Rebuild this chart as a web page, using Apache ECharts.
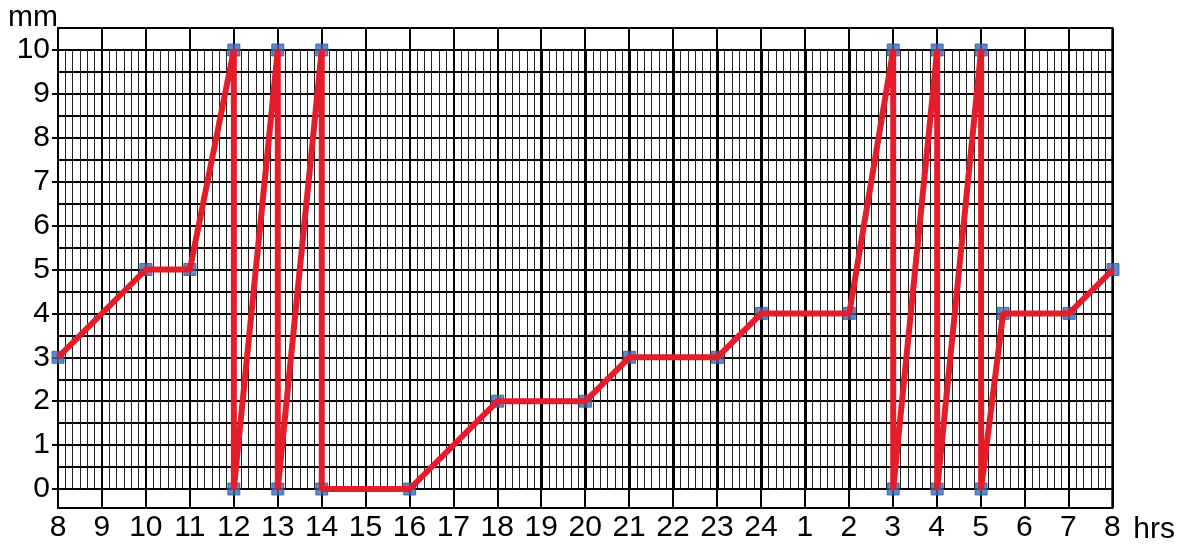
<!DOCTYPE html>
<html>
<head>
<meta charset="utf-8">
<script src="https://cdn.jsdelivr.net/npm/echarts@6/dist/echarts.min.js"></script>
<style>
    html, body { margin: 0; padding: 0; background: #fff; }
    #chart { width: 1178px; height: 545px; }
</style>
</head>
<body>
<div id="chart"></div>
<script>
// hours counted from 8 (so 24 -> midnight, 26 -> 2 next day)
const hours = [8, 10, 11, 12, 12, 13, 13, 14, 14, 16, 18, 20, 21, 23, 24, 26, 27, 27, 28, 28, 29, 29, 29.5, 31, 32];
const mm = [3, 5, 5, 10, 0, 10, 0, 10, 0, 0, 2, 2, 3, 3, 4, 4, 10, 0, 10, 0, 10, 0, 4, 4, 5];
const hourLabels = ['8', '9', '10', '11', '12', '13', '14', '15', '16', '17', '18', '19', '20',
    '21', '22', '23', '24', '1', '2', '3', '4', '5', '6', '7', '8'];
const mmTicks = [0, 1, 2, 3, 4, 5, 6, 7, 8, 9, 10];

const font = 'Liberation Sans';
const chart = echarts.init(document.getElementById('chart'));

const points = hours.map((h, i) => [h, mm[i]]);

const option = {
    backgroundColor: '#fff',
    animation: false,
    grid: [
        // outer frame (with empty bands above 10 and below 0)
        { left: 58, right: 65, top: 28, bottom: 35, show: true, borderColor: '#000', borderWidth: 2, z: 1 },
        // inner plot 0..10
        { left: 58, right: 65, top: 50, bottom: 56 }
    ],
    xAxis: [
        {
            gridIndex: 0, type: 'value', min: 8, max: 32, interval: 1,
            name: 'hrs', nameLocation: 'end', nameGap: 21,
            nameTextStyle: { fontSize: 30, color: '#000', fontFamily: font, verticalAlign: 'top', padding: [7, 0, 0, 0] },
            axisLine: { show: false },
            axisTick: { show: false },
            axisLabel: {
                fontSize: 30, color: '#000', fontFamily: font, margin: 5,
                formatter: v => hourLabels[v - 8]
            },
            splitLine: { show: true, lineStyle: { color: '#000', width: 2 } }
        },
        {
            gridIndex: 1, type: 'value', min: 8, max: 32, interval: 1,
            axisLine: { show: false },
            axisTick: { show: false },
            axisLabel: { show: false },
            splitLine: { show: true, lineStyle: { color: '#000', width: 2 } },
            minorTick: { show: false, splitNumber: 6 },
            minorSplitLine: { show: true, lineStyle: { color: '#222', width: 1 } }
        }
    ],
    yAxis: [
        {
            gridIndex: 0, type: 'value', min: 0, max: 1,
            name: 'mm', nameLocation: 'end', nameGap: 0,
            nameTextStyle: { fontSize: 30, color: '#000', fontFamily: font, align: 'right', verticalAlign: 'bottom', padding: [0, 0, -5, 0] },
            axisLine: { show: false },
            axisTick: { show: false },
            axisLabel: { show: false },
            splitLine: { show: false }
        },
        {
            gridIndex: 1, type: 'value', min: 0, max: 10, interval: 1,
            axisLine: { show: false },
            axisTick: { show: true, length: 6, lineStyle: { color: '#000', width: 2 } },
            axisLabel: {
                fontSize: 30, color: '#000', fontFamily: font, margin: 8,
                formatter: v => mmTicks.includes(v) ? String(v) : ''
            },
            splitLine: { show: true, lineStyle: { color: '#000', width: 2 } },
            minorTick: { show: false, splitNumber: 2 },
            minorSplitLine: { show: true, lineStyle: { color: '#000', width: 2 } }
        }
    ],
    series: [
        {
            // square markers, drawn under the red line
            type: 'scatter',
            xAxisIndex: 1,
            yAxisIndex: 1,
            data: points,
            clip: false,
            symbol: 'rect',
            symbolSize: 12,
            itemStyle: { color: '#3b6cb3', borderColor: '#2d5a9c', borderWidth: 1 },
            z: 4
        },
        {
            type: 'line',
            xAxisIndex: 1,
            yAxisIndex: 1,
            data: points,
            clip: false,
            showSymbol: false,
            lineStyle: { color: '#e51d2b', width: 6 },
            z: 5
        }
    ]
};

chart.setOption(option);
</script>
</body>
</html>
